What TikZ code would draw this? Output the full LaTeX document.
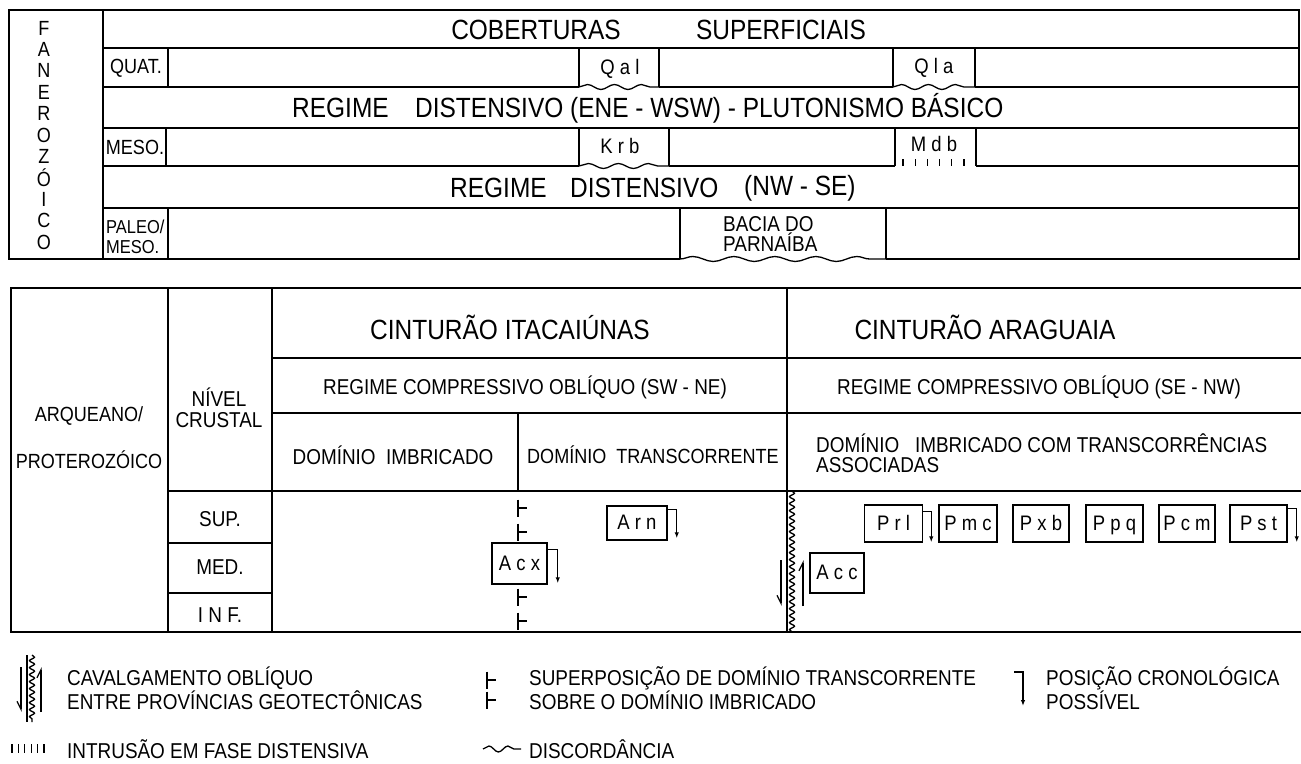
\documentclass[tikz,border=0pt]{standalone}
\usepackage{fontspec}
\setmainfont{Liberation Sans}[FakeStretch=0.88]
\usetikzlibrary{arrows.meta}
\usetikzlibrary{decorations.pathmorphing}

\tikzset{
  rule/.style={line width=1.7pt},
  thinrule/.style={line width=1.3pt},
  biglbl/.style={inner sep=0pt, font=\fontsize{27.8}{31}\selectfont},
  lbl/.style={inner sep=0pt, font=\fontsize{21.5}{20.5}\selectfont},
  smalllbl/.style={inner sep=0pt, font=\fontsize{18.7}{20}\selectfont},
  tablbl/.style={inner sep=0pt, font=\fontsize{20.5}{20}\selectfont},
  unitbox/.style={draw, line width=1.5pt, inner sep=0pt, text height=14pt, text depth=1pt,
    font=\fontsize{21}{20}\selectfont},
  discord/.style={decorate, decoration={snake, amplitude=2.5pt, segment length=#1}},
  chrono/.style={line width=1.3pt, -{Latex[length=6pt,width=4.5pt]}},
  superpos/.pic={\draw[line width=1.4pt] (0,-8.5) -- (0,8.5) (0,0) -- (9,0);}
}

\begin{document}
\begin{tikzpicture}[x=1pt, y=-1pt]
    \useasboundingbox (0,0) rectangle (1301,763);

    \draw[rule] (680,259) -- (9,259) -- (9,10) -- (1299,10) -- (1299,259) -- (886,259);
    \draw[rule] (103,10) -- (103,259);
    \draw[rule] (103,48) -- (1299,48);
    \draw[rule] (103,87) -- (579,87) (659,87) -- (893,87) (975,87) -- (1299,87);
    \draw[rule] (103,128) -- (1299,128);
    \draw[rule] (103,166) -- (579,166) (669,166) -- (895,166) (976,166) -- (1299,166);
    \draw[rule] (103,208) -- (1299,208);

    \draw[rule] (168,48) -- (168,87) (579,48) -- (579,87) (659,48) -- (659,87)
        (893,48) -- (893,87) (975,48) -- (975,87);
    \draw[rule] (166,128) -- (166,166) (579,128) -- (579,166) (669,128) -- (669,166)
        (895,128) -- (895,166) (976,128) -- (976,166);
    \draw[rule] (168,208) -- (168,259) (680,208) -- (680,259) (886,208) -- (886,259);

    \draw[thinrule, discord=27pt] (579,87) -- (659,87);
    \draw[thinrule, discord=27pt] (893,87) -- (975,87);
    \draw[thinrule, discord=30pt] (579,166) -- (669,166);
    \draw[thinrule, discord=41pt] (680,259) -- (886,259);
    \foreach \i in {0,...,5}
        \draw[thinrule] ({903+12.2*\i},159) -- ++(0,7);

    \foreach \c [count=\k] in {F,A,N,E,R,O,Z,Ó,I,C,O}
        \node[tablbl] (fan\k) at (44,{28+21.4*(\k-1)}) {\c};

    \node[biglbl] (cob) at (536,30) {COBERTURAS};
    \node[biglbl] (supf) at (781,30) {SUPERFICIAIS};
    \node[tablbl] (quat) at (136,68) {QUAT.};
    \node[unitbox, draw=none] (qal) at (620,68) {Q a l};
    \node[unitbox, draw=none] (qla) at (934,67) {Q l a};
    \node[biglbl, anchor=west] (reg1) at (292,108) {REGIME};
    \node[biglbl, anchor=west] (dist1) at (415,108) {DISTENSIVO (ENE - WSW) - PLUTONISMO BÁSICO};
    \node[tablbl] (meso) at (135,147) {MESO.};
    \node[unitbox, draw=none] (krb) at (620,147) {K r b};
    \node[unitbox, draw=none] (mdb) at (934,145) {M d b};
    \node[biglbl, anchor=west] (reg2) at (450,188) {REGIME};
    \node[biglbl, anchor=west] (dist2) at (570,188) {DISTENSIVO};
    \node[biglbl, anchor=west] (nwse) at (744,188) {(NW - SE)};
    \node[smalllbl, anchor=west, align=left] (paleo) at (106,237) {PALEO/\\MESO.};
    \node[lbl, anchor=west, align=left] (bacia) at (723,234) {BACIA DO\\PARNAÍBA};

    \draw[rule] (1301,288) -- (11,288) -- (11,632) -- (1301,632);
    \draw[rule] (168,288) -- (168,632);
    \draw[rule] (272,288) -- (272,632);
    \draw[rule] (787,288) -- (787,632);
    \draw[rule] (272,358) -- (1301,358);
    \draw[rule] (272,413) -- (1301,413);
    \draw[rule] (168,491) -- (1301,491);
    \draw[rule] (168,543) -- (272,543);
    \draw[rule] (168,593) -- (272,593);
    \draw[thinrule] (518,413) -- (518,491);

    \node[tablbl] (arq) at (89,416) {ARQUEANO/};
    \node[tablbl] (prot) at (89,460) {PROTEROZÓICO};
    \node[lbl, align=center] (nivel) at (219,408) {NÍVEL\\CRUSTAL};
    \node[lbl] (supn) at (220,519) {SUP.};
    \node[lbl] (medn) at (220,567) {MED.};
    \node[lbl] (infn) at (220,615) {I N F.};

    \node[biglbl] (ita) at (510,327) {CINTURÃO ITACAIÚNAS};
    \node[biglbl] (ara) at (985,327) {CINTURÃO ARAGUAIA};
    \node[lbl] (rcomp1) at (525,387) {REGIME COMPRESSIVO OBLÍQUO (SW - NE)};
    \node[lbl] (rcomp2) at (1039,387) {REGIME COMPRESSIVO OBLÍQUO (SE - NW)};
    \node[lbl] (dimb) at (393,455) {DOMÍNIO\ \ IMBRICADO};
    \node[tablbl] (dtra) at (653,455) {DOMÍNIO\ \ TRANSCORRENTE};
    \node[lbl, anchor=west, align=left] (dtrc) at (816,453) {DOMÍNIO\ \ \ IMBRICADO COM TRANSCORRÊNCIAS\\ASSOCIADAS};

    \node[unitbox, minimum width=55pt, minimum height=41pt] (acx) at (519.5,563.5) {A c x};
    \node[unitbox, minimum width=60pt, minimum height=34pt] (arn) at (637,523) {A r n};
    \node[unitbox, minimum width=54pt, minimum height=40pt] (acc) at (837,573) {A c c};
    \node[unitbox, minimum width=58pt, minimum height=37pt] (prl) at (893.5,523.5) {P r l};
    \node[unitbox, minimum width=58pt, minimum height=37pt] (pmc) at (968,523.5) {P m c};
    \node[unitbox, minimum width=56pt, minimum height=37pt] (pxb) at (1041,523.5) {P x b};
    \node[unitbox, minimum width=57pt, minimum height=37pt] (ppq) at (1114.5,523.5) {P p q};
    \node[unitbox, minimum width=56pt, minimum height=37pt] (pcm) at (1187,523.5) {P c m};
    \node[unitbox, minimum width=57pt, minimum height=37pt] (pst) at (1258.5,523.5) {P s t};

    \draw[chrono] ([yshift=-7pt]acx.north east) -- ++(10,0) -- ++(0,34);
    \draw[chrono] ([yshift=-4pt]arn.north east) -- ++(9,0) -- ++(0,29);
    \draw[chrono] ([yshift=-7pt]prl.north east) -- ++(8,0) -- ++(0,31);
    \draw[chrono] ([yshift=-4pt]pst.north east) -- ++(9,0) -- ++(0,34);

    \foreach \y in {508,532,597,621}
        \pic at (518,\y) {superpos};

    \draw[thinrule, decorate, decoration={snake, amplitude=2.5pt, segment length=7pt}] (792,491) -- (792,632);
    \draw[thinrule, -{Straight Barb[harpoon,swap,length=8pt,width=8pt]}] (781,560) -- (781,606);
    \draw[thinrule, -{Straight Barb[harpoon,length=8pt,width=8pt]}] (803,606) -- (803,560);

    \draw[thinrule] (27,655) -- (27,722);
    \draw[thinrule, decorate, decoration={snake, amplitude=2.5pt, segment length=7pt}] (32,655) -- (32,722);
    \draw[thinrule, -{Straight Barb[harpoon,swap,length=8pt,width=8pt]}] (21,667) -- (21,712);
    \draw[thinrule, -{Straight Barb[harpoon,length=8pt,width=8pt]}] (41,712) -- (41,667);
    \node[lbl, anchor=west, align=left] (leg1) at (67,688) {CAVALGAMENTO OBLÍQUO\\ENTRE PROVÍNCIAS GEOTECTÔNICAS};

    \pic at (487,680) {superpos};
    \pic at (487,700) {superpos};
    \node[lbl, anchor=west, align=left] (leg2) at (529,688) {SUPERPOSIÇÃO DE DOMÍNIO TRANSCORRENTE\\SOBRE O DOMÍNIO IMBRICADO};

    \draw[chrono] (1014,672) -- (1023,672) -- (1023,706);
    \node[lbl, anchor=west, align=left] (leg3) at (1046,688) {POSIÇÃO CRONOLÓGICA\\POSSÍVEL};

    \foreach \i in {0,...,5}
        \draw[thinrule] ({12+6.4*\i},744) -- ++(0,9);
    \node[lbl, anchor=west] (leg4) at (67,749) {INTRUSÃO EM FASE DISTENSIVA};

    \draw[thinrule, decorate, decoration={snake, amplitude=3pt, segment length=19pt}] (483,749) -- (521,749);
    \node[lbl, anchor=west] (leg5) at (529,749) {DISCORDÂNCIA};
\end{tikzpicture}
\end{document}
